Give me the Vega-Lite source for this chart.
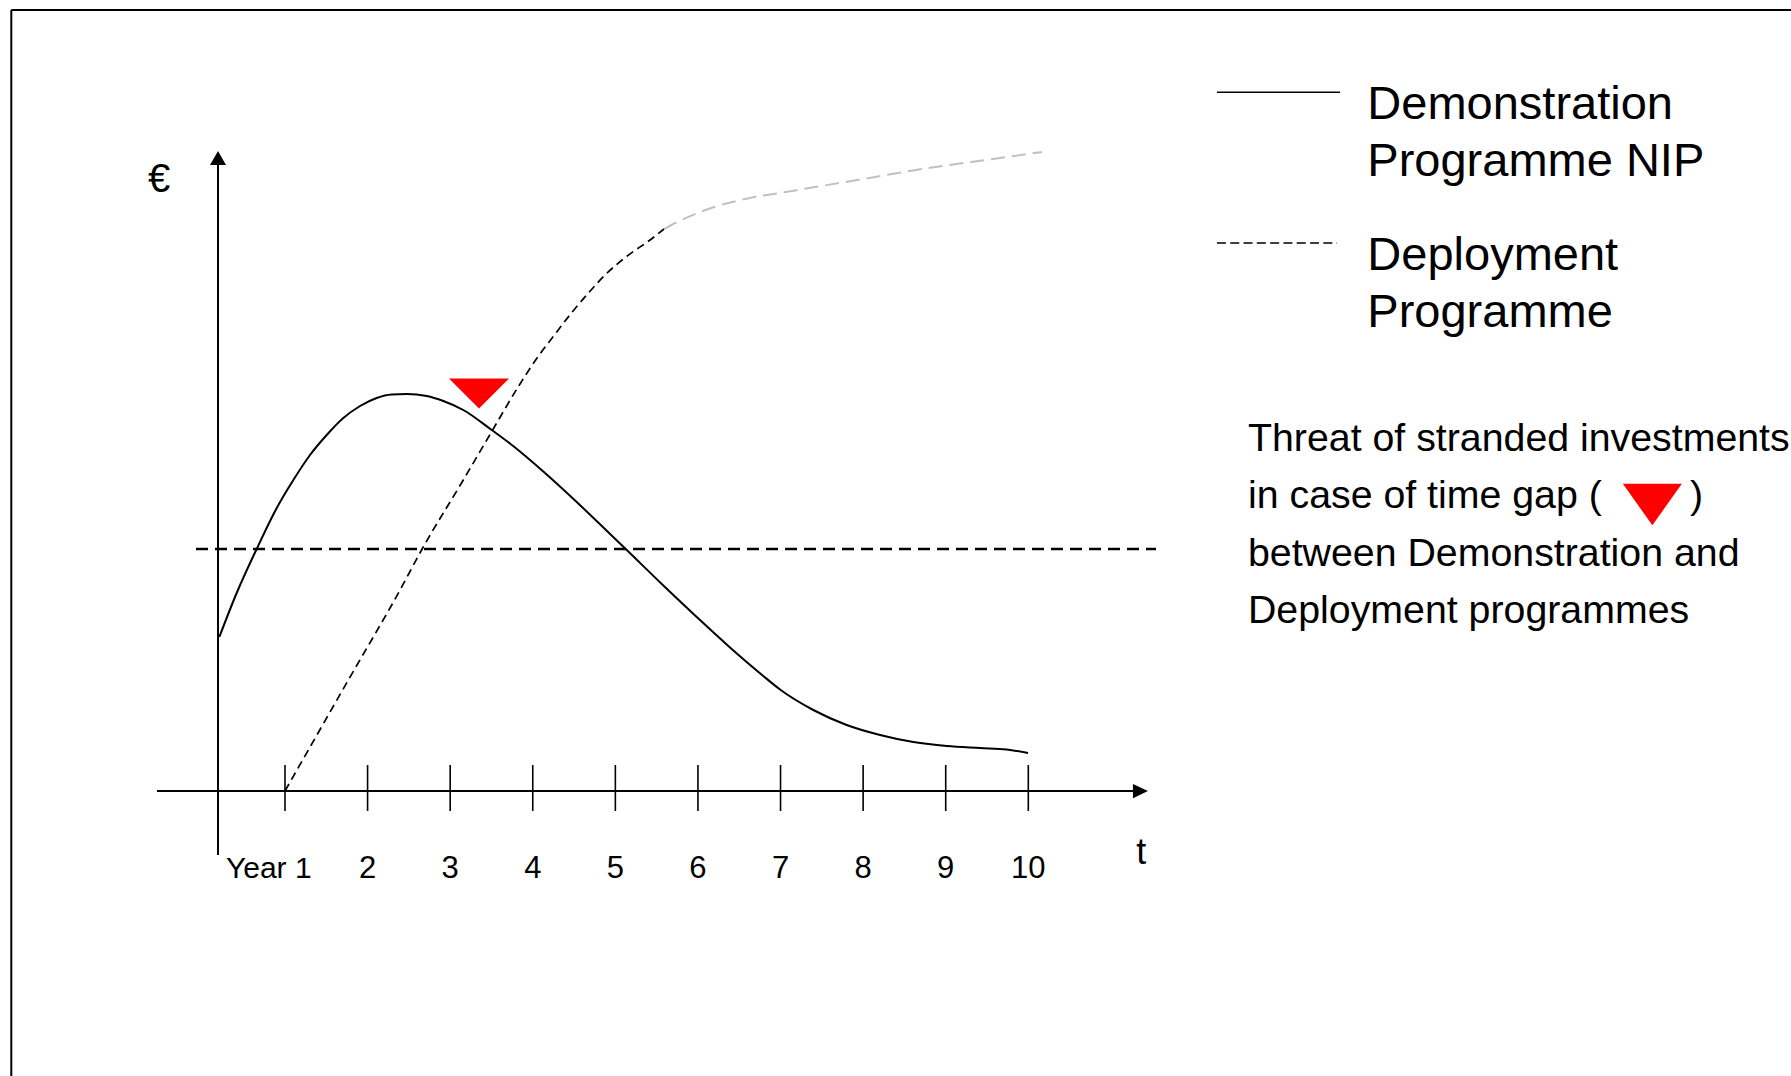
{
  "$schema": "https://vega.github.io/schema/vega-lite/v6.json",
  "width": 1780,
  "height": 1067,
  "autosize": {"type": "none"},
  "padding": {"left": 11, "top": 9, "right": 0, "bottom": 0},
  "background": "white",
  "config": {"view": {"stroke": null}},
  "datasets": {
    "frame": [
      {"x": -2.3139, "y": -28.5, "x2": -2.3139, "y2": 78.1},
      {"x": -2.3139, "y": 78.1, "x2": 19.2347, "y2": 78.1}
    ],
    "axes": [
      {"x": 0.189, "y": -6.4, "x2": 0.189, "y2": 63.0},
      {"x": -0.55, "y": 0, "x2": 11.29, "y2": 0}
    ],
    "ticks": [
      {"x": 1, "y": -2.0, "x2": 1, "y2": 2.6},
      {"x": 2, "y": -2.0, "x2": 2, "y2": 2.6},
      {"x": 3, "y": -2.0, "x2": 3, "y2": 2.6},
      {"x": 4, "y": -2.0, "x2": 4, "y2": 2.6},
      {"x": 5, "y": -2.0, "x2": 5, "y2": 2.6},
      {"x": 6, "y": -2.0, "x2": 6, "y2": 2.6},
      {"x": 7, "y": -2.0, "x2": 7, "y2": 2.6},
      {"x": 8, "y": -2.0, "x2": 8, "y2": 2.6},
      {"x": 9, "y": -2.0, "x2": 9, "y2": 2.6},
      {"x": 10, "y": -2.0, "x2": 10, "y2": 2.6}
    ],
    "threshold": [{"x": -0.0775, "y": 24.2, "x2": 11.546, "y2": 24.2}],
    "arrowUp": [{"x": 0.189, "y": 63.3}],
    "arrowRight": [{"x": 11.358, "y": 0}],
    "demo": [
      {"x": 0.205, "y": 15.4}, {"x": 0.415, "y": 19.8}, {"x": 0.657, "y": 24.2},
      {"x": 0.900, "y": 28.3}, {"x": 1.101, "y": 31.1}, {"x": 1.303, "y": 33.6},
      {"x": 1.505, "y": 35.6}, {"x": 1.706, "y": 37.3}, {"x": 1.909, "y": 38.5},
      {"x": 2.110, "y": 39.3}, {"x": 2.291, "y": 39.65}, {"x": 2.474, "y": 39.7},
      {"x": 2.716, "y": 39.5}, {"x": 2.917, "y": 39.0}, {"x": 3.159, "y": 38.1},
      {"x": 3.503, "y": 36.1}, {"x": 3.724, "y": 34.75}, {"x": 4.128, "y": 31.95},
      {"x": 4.532, "y": 28.9}, {"x": 4.936, "y": 25.7}, {"x": 5.138, "y": 24.1},
      {"x": 5.581, "y": 20.55}, {"x": 5.985, "y": 17.4}, {"x": 6.388, "y": 14.35},
      {"x": 6.791, "y": 11.5}, {"x": 6.994, "y": 10.15}, {"x": 7.397, "y": 8.1},
      {"x": 7.801, "y": 6.6}, {"x": 8.205, "y": 5.6}, {"x": 8.608, "y": 4.9},
      {"x": 9.012, "y": 4.5}, {"x": 9.415, "y": 4.3}, {"x": 9.738, "y": 4.15},
      {"x": 9.997, "y": 3.8}
    ],
    "deployBlack": [
      {"x": 1.0, "y": 0}, {"x": 1.767, "y": 11.1}, {"x": 2.393, "y": 20.1},
      {"x": 2.647, "y": 24.0}, {"x": 3.159, "y": 31.1}, {"x": 3.507, "y": 36.0},
      {"x": 3.822, "y": 40.4}, {"x": 4.035, "y": 43.1}, {"x": 4.253, "y": 45.5},
      {"x": 4.468, "y": 47.8}, {"x": 4.685, "y": 49.9}, {"x": 4.900, "y": 51.8},
      {"x": 5.160, "y": 53.6}, {"x": 5.420, "y": 55.1}, {"x": 5.589, "y": 56.2}
    ],
    "deployGray": [
      {"x": 5.589, "y": 56.2}, {"x": 5.678, "y": 56.6}, {"x": 6.198, "y": 58.4},
      {"x": 6.630, "y": 59.3}, {"x": 7.063, "y": 59.9}, {"x": 7.927, "y": 61.1},
      {"x": 8.793, "y": 62.3}, {"x": 9.658, "y": 63.3}, {"x": 10.165, "y": 63.9}
    ],
    "gapMarker": [{"x": 3.349, "y": 39.75}],
    "gapKey": [{"x": 17.556, "y": 28.65}],
    "keySolid": [{"x": 12.284, "y": 69.87, "x2": 13.774, "y2": 69.87}],
    "keyDashed": [{"x": 12.284, "y": 54.8, "x2": 13.738, "y2": 54.8}],
    "legendText": [
      {"x": 14.105, "y": 67.17, "label": "Demonstration"},
      {"x": 14.105, "y": 61.5, "label": "Programme NIP"},
      {"x": 14.105, "y": 52.1, "label": "Deployment"},
      {"x": 14.105, "y": 46.43, "label": "Programme"}
    ],
    "noteText": [
      {"x": 12.66, "y": 34.02, "label": "Threat of stranded investments"},
      {"x": 12.66, "y": 28.28, "label": "in case of time gap ("},
      {"x": 18.012, "y": 28.28, "label": ")"},
      {"x": 12.66, "y": 22.54, "label": "between Demonstration and"},
      {"x": 12.66, "y": 16.8, "label": "Deployment programmes"}
    ],
    "tickLabels": [
      {"x": 2, "y": -8.7, "label": "2"}, {"x": 3, "y": -8.7, "label": "3"},
      {"x": 4, "y": -8.7, "label": "4"}, {"x": 5, "y": -8.7, "label": "5"},
      {"x": 6, "y": -8.7, "label": "6"}, {"x": 7, "y": -8.7, "label": "7"},
      {"x": 8, "y": -8.7, "label": "8"}, {"x": 9, "y": -8.7, "label": "9"},
      {"x": 10, "y": -8.7, "label": "10"}
    ],
    "firstLabel": [{"x": 1, "y": -8.7, "label": "Year 1"}],
    "tLabel": [{"x": 11.368, "y": -7.3, "label": "t"}],
    "euroLabel": [{"x": -0.524, "y": 59.9, "label": "€"}]
  },
  "encoding": {
    "x": {"field": "x", "type": "quantitative", "scale": {"domain": [-2.3175, 19.2347], "nice": false, "zero": false}, "axis": null},
    "y": {"field": "y", "type": "quantitative", "scale": {"domain": [-28.5, 78.2], "nice": false, "zero": false}, "axis": null}
  },
  "layer": [
    {"data": {"name": "frame"}, "mark": {"type": "rule", "color": "black", "strokeWidth": 2},
     "encoding": {"x2": {"field": "x2"}, "y2": {"field": "y2"}}},
    {"data": {"name": "threshold"}, "mark": {"type": "rule", "color": "black", "strokeWidth": 2.5, "strokeDash": [12, 7]},
     "encoding": {"x2": {"field": "x2"}, "y2": {"field": "y2"}}},
    {"data": {"name": "axes"}, "mark": {"type": "rule", "color": "black", "strokeWidth": 2},
     "encoding": {"x2": {"field": "x2"}, "y2": {"field": "y2"}}},
    {"data": {"name": "ticks"}, "mark": {"type": "rule", "color": "black", "strokeWidth": 1.6},
     "encoding": {"x2": {"field": "x2"}, "y2": {"field": "y2"}}},
    {"data": {"name": "arrowUp"}, "mark": {"type": "point", "shape": "M0,-0.875L1,0.875L-1,0.875Z", "filled": true, "color": "black", "opacity": 1, "size": 256, "strokeWidth": 0}},
    {"data": {"name": "arrowRight"}, "mark": {"type": "point", "shape": "M1,0L-1,-0.95L-1,0.95Z", "filled": true, "color": "black", "opacity": 1, "size": 225, "strokeWidth": 0}},
    {"data": {"name": "deployGray"}, "mark": {"type": "line", "color": "#c0c0c0", "strokeWidth": 2, "strokeDash": [14, 7], "interpolate": "monotone"}},
    {"data": {"name": "deployBlack"}, "mark": {"type": "line", "color": "black", "strokeWidth": 1.7, "strokeDash": [8, 5], "interpolate": "monotone"}},
    {"data": {"name": "demo"}, "mark": {"type": "line", "color": "black", "strokeWidth": 2, "interpolate": "monotone"}},
    {"data": {"name": "gapMarker"}, "mark": {"type": "point", "shape": "M-1,-0.5L1,-0.5L0,0.5Z", "filled": true, "color": "#ff0000", "opacity": 1, "size": 3600, "strokeWidth": 0}},
    {"data": {"name": "gapKey"}, "mark": {"type": "point", "shape": "M-1,-0.7L1,-0.7L0,0.7Z", "filled": true, "color": "#ff0000", "opacity": 1, "size": 3481, "strokeWidth": 0}},
    {"data": {"name": "keySolid"}, "mark": {"type": "rule", "color": "black", "strokeWidth": 1.5},
     "encoding": {"x2": {"field": "x2"}}},
    {"data": {"name": "keyDashed"}, "mark": {"type": "rule", "color": "black", "strokeWidth": 1.3, "strokeDash": [9, 4.3]},
     "encoding": {"x2": {"field": "x2"}}},
    {"data": {"name": "legendText"}, "mark": {"type": "text", "align": "left", "baseline": "alphabetic", "font": "Liberation Sans, Arial, sans-serif", "fontSize": 47, "color": "black"},
     "encoding": {"text": {"field": "label"}}},
    {"data": {"name": "noteText"}, "mark": {"type": "text", "align": "left", "baseline": "alphabetic", "font": "Liberation Sans, Arial, sans-serif", "fontSize": 39.3, "color": "black"},
     "encoding": {"text": {"field": "label"}}},
    {"data": {"name": "tickLabels"}, "mark": {"type": "text", "align": "center", "baseline": "alphabetic", "font": "Liberation Sans, Arial, sans-serif", "fontSize": 31, "color": "black"},
     "encoding": {"text": {"field": "label"}}},
    {"data": {"name": "firstLabel"}, "mark": {"type": "text", "align": "right", "dx": 26.6, "baseline": "alphabetic", "font": "Liberation Sans, Arial, sans-serif", "fontSize": 30, "color": "black"},
     "encoding": {"text": {"field": "label"}}},
    {"data": {"name": "tLabel"}, "mark": {"type": "text", "align": "center", "baseline": "alphabetic", "font": "Liberation Sans, Arial, sans-serif", "fontSize": 36, "color": "black"},
     "encoding": {"text": {"field": "label"}}},
    {"data": {"name": "euroLabel"}, "mark": {"type": "text", "align": "center", "baseline": "alphabetic", "font": "Liberation Sans, Arial, sans-serif", "fontSize": 40, "color": "black"},
     "encoding": {"text": {"field": "label"}}}
  ]
}
